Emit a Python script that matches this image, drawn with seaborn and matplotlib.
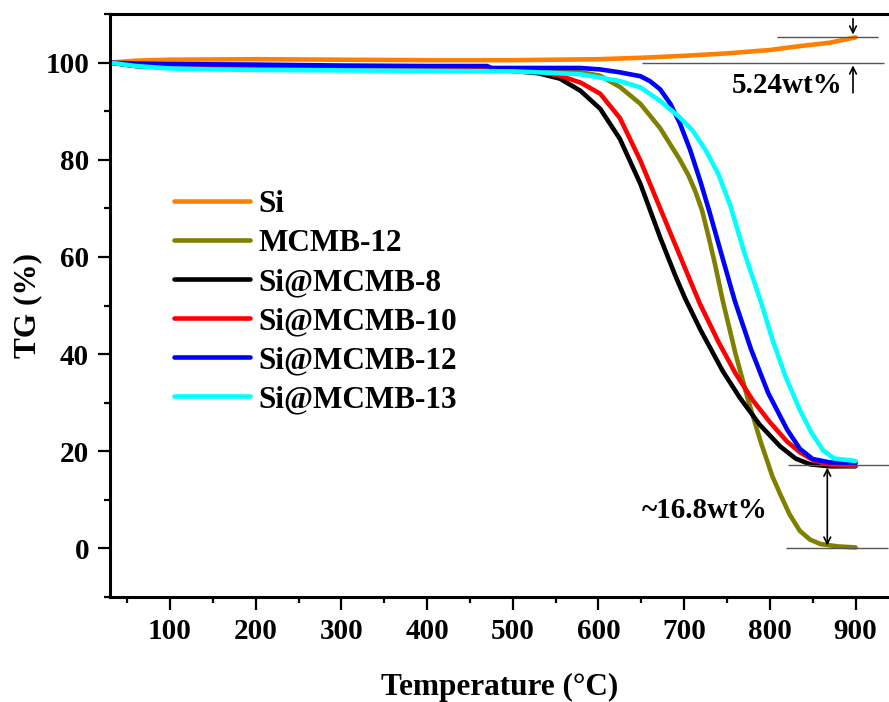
import matplotlib
matplotlib.use("Agg")
import matplotlib.pyplot as plt
import pandas as pd
import seaborn as sns

# temperature (deg C) / TG (%) readings for each sample
si_t = [30, 60, 100, 200, 300, 400, 500, 550, 600, 650, 700, 750, 800, 835, 870, 900]
si_w = [100.0, 100.4, 100.6, 100.7, 100.6, 100.5, 100.5, 100.6, 100.7, 101.0, 101.4, 101.9, 102.6, 103.4, 104.1, 105.2]

mcmb12_t = [30, 60, 100, 200, 300, 400, 500, 555, 580, 602, 625, 649, 672, 695, 705, 713, 721, 728, 736, 745,
            760, 775, 789, 803, 812, 823, 835, 847, 859, 880, 900]
mcmb12_w = [100.0, 99.3, 99.0, 98.8, 98.6, 98.5, 98.4, 98.2, 98.0, 97.3, 95.0, 91.5, 86.5, 80.0, 76.8, 73.5, 69.5, 64.5, 58.5, 51.0,
            40.0, 30.3, 22.1, 14.8, 11.2, 7.0, 3.6, 1.8, 0.9, 0.4, 0.2]

s8_t = [30, 60, 100, 200, 300, 400, 500, 530, 555, 579, 602, 625, 649, 672, 690, 701, 719, 745, 765, 788,
        812, 830, 847, 870, 900]
s8_w = [100.0, 99.3, 99.0, 98.8, 98.7, 98.6, 98.3, 97.8, 96.7, 94.2, 90.5, 84.3, 75.0, 64.0, 56.0, 51.5, 45.0, 36.5, 31.0, 25.5,
        21.0, 18.5, 17.3, 16.9, 16.9]

s10_t = [30, 60, 100, 200, 300, 400, 500, 530, 555, 579, 602, 625, 649, 672, 692, 718, 740, 760, 780, 800,
         820, 835, 850, 865, 880, 900]
s10_w = [100.0, 99.4, 99.2, 99.0, 98.9, 98.8, 98.5, 98.1, 97.3, 95.9, 93.6, 88.6, 79.8, 70.0, 61.5, 50.5, 42.5, 36.0, 30.5, 26.0,
         22.0, 19.8, 18.2, 17.4, 17.1, 17.0]

s12_t = [30, 60, 100, 200, 300, 400, 470, 475, 500, 555, 579, 602, 625, 649, 660, 672, 684, 695, 707, 719,
         730, 742, 759, 778, 798, 820, 835, 850, 870, 900]
s12_w = [100.0, 99.8, 99.7, 99.6, 99.4, 99.3, 99.3, 98.9, 98.9, 98.9, 98.9, 98.6, 98.0, 97.2, 96.2, 94.5, 91.5, 87.5, 82.0, 75.5,
         69.0, 61.5, 51.0, 41.0, 32.0, 24.5, 20.5, 18.4, 17.7, 17.6]

s13_t = [30, 60, 100, 150, 200, 300, 400, 500, 530, 579, 625, 649, 672, 695, 710, 725, 740, 754, 770, 790,
         803, 818, 835, 848, 862, 875, 900]
s13_w = [100.0, 99.3, 98.8, 98.6, 98.5, 98.4, 98.3, 98.2, 98.0, 97.6, 96.2, 94.9, 92.1, 88.7, 86.0, 82.0, 77.0, 70.5, 61.0, 50.5,
         43.0, 35.5, 28.5, 24.0, 20.2, 18.5, 18.0]

labels = ["Si", "MCMB-12", "Si@MCMB-8", "Si@MCMB-10", "Si@MCMB-12", "Si@MCMB-13"]
colors = ["#FF8000", "#808000", "#000000", "#FF0000", "#0000FF", "#00FFFF"]
temps = [si_t, mcmb12_t, s8_t, s10_t, s12_t, s13_t]
weights = [si_w, mcmb12_w, s8_w, s10_w, s12_w, s13_w]

frames = []
for name, t, w in zip(labels, temps, weights):
    frames.append(pd.DataFrame({"Temperature": t, "TG": w, "sample": name}))
df = pd.concat(frames, ignore_index=True)

sns.set_theme(style="ticks")
plt.rcParams["font.family"] = ["Liberation Serif", "DejaVu Serif"]
plt.rcParams["font.weight"] = "bold"
plt.rcParams["axes.labelweight"] = "bold"
for key in ["text.color", "axes.labelcolor", "xtick.color", "ytick.color", "axes.edgecolor"]:
    plt.rcParams[key] = "black"

fig = plt.figure(figsize=(8.89, 7.02), dpi=100)
ax = fig.add_axes([0.1237, 0.1496, 0.8763, 0.8304])

sns.lineplot(data=df, x="Temperature", y="TG", hue="sample", hue_order=labels,
             palette=dict(zip(labels, colors)), estimator=None, sort=False,
             linewidth=3.3, ax=ax)

ax.set_xlim(30, 939)
ax.set_ylim(-10, 110)
ax.set_xticks(range(100, 901, 100))
ax.set_xticks(range(50, 901, 100), minor=True)
ax.set_yticks(range(0, 101, 20))
ax.set_yticks(range(-10, 111, 20), minor=True)
ax.tick_params(which="major", direction="out", length=9, width=1.6, labelsize=21, pad=6, colors="black")
ax.tick_params(which="minor", direction="out", length=4.5, width=1.6, colors="black")
for side in ["left", "bottom", "top"]:
    ax.spines[side].set_linewidth(2.2)
    ax.spines[side].set_color("black")
ax.spines["right"].set_visible(False)
for lab in ax.get_xticklabels() + ax.get_yticklabels():
    lab.set_fontweight("bold")

ax.set_xlabel("Temperature (°C)", fontsize=22.5, fontweight="bold", labelpad=20)
ax.set_ylabel("TG (%)", fontsize=22.5, fontweight="bold", labelpad=2)

leg = ax.legend(loc="upper left", bbox_to_anchor=(0.066, 0.719), frameon=False,
                handlelength=2.45, handletextpad=0.25, labelspacing=0.32,
                prop={"size": 22.5, "weight": "bold"}, borderaxespad=0)
for line in leg.get_lines():
    line.set_linewidth(3.3)
for txt in leg.get_texts():
    txt.set_color("black")

# mass change markers
gray = "#555555"
ax.hlines(105.2, 808, 926, color=gray, linewidth=1)
ax.hlines(100.0, 651, 933, color=gray, linewidth=1)
ax.annotate("", xy=(897, 105.2), xytext=(897, 109.6),
            arrowprops=dict(arrowstyle="->", color="black", lw=1.2))
ax.annotate("", xy=(897, 100.0), xytext=(897, 93.2),
            arrowprops=dict(arrowstyle="->", color="black", lw=1.2))
ax.text(820, 95.2, "5.24wt%", fontsize=21, fontweight="bold", ha="center", va="center")

ax.hlines(17.2, 821, 939, color=gray, linewidth=1)
ax.hlines(0.0, 819, 938, color=gray, linewidth=1)
ax.annotate("", xy=(867, 0.0), xytext=(867, 17.2),
            arrowprops=dict(arrowstyle="<->", color="black", lw=1.2))
ax.text(724, 7.7, "~16.8wt%", fontsize=21, fontweight="bold", ha="center", va="center")

fig.savefig("out.png", dpi=100)
